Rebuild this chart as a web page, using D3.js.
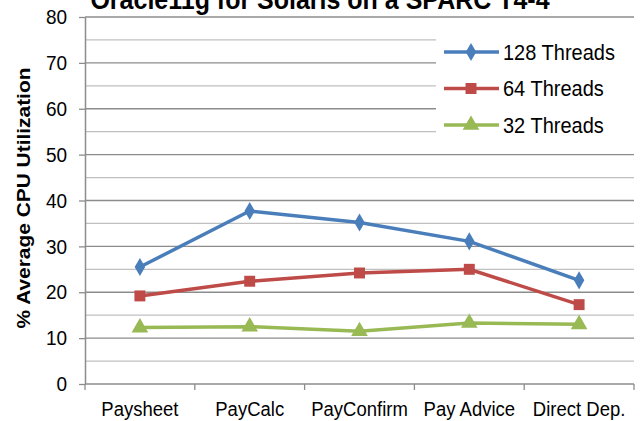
<!DOCTYPE html>
<html>
<head>
<meta charset="utf-8">
<script src="https://cdn.jsdelivr.net/npm/d3@7"></script>
<style>
  body { margin: 0; background: #fff; }
  text { font-family: "Liberation Sans", Arial, sans-serif; }
</style>
</head>
<body>
<svg id="chart" width="640" height="421"></svg>
<script>
const categories = ["Paysheet", "PayCalc", "PayConfirm", "Pay Advice", "Direct Dep."];
const threads128 = [25.5, 37.7, 35.2, 31.1, 22.6];
const threads64 = [19.2, 22.4, 24.2, 25.0, 17.3];
const threads32 = [12.3, 12.5, 11.5, 13.3, 13.0];
const seriesNames = ["128 Threads", "64 Threads", "32 Threads"];
const yTicks = [0, 10, 20, 30, 40, 50, 60, 70, 80];

const series = [
  { name: seriesNames[0], values: threads128, color: "#4a7ebb", shape: d3.symbolDiamond },
  { name: seriesNames[1], values: threads64, color: "#be4b48", shape: d3.symbolSquare },
  { name: seriesNames[2], values: threads32, color: "#98b954", shape: d3.symbolTriangle }
];

// the picture is a little taller than wide in its glyphs
const stretch = 1.1;

var svg = d3.select("#chart"),
  margin = { top: 17, right: 6, bottom: 37, left: 85 },
  width = +svg.attr("width"),
  height = +svg.attr("height");

const x = d3.scaleBand()
  .domain(categories)
  .range([margin.left, width - margin.right]);

const y = d3.scaleLinear()
  .domain([0, 80])
  .range([height - margin.bottom, margin.top]);

// gridlines, minor every 5, major every 10
svg.append("g")
  .selectAll("line")
  .data(d3.range(5, 81, 5))
  .enter()
  .append("line")
  .attr("x1", margin.left)
  .attr("x2", width - margin.right)
  .attr("y1", (d) => y(d))
  .attr("y2", (d) => y(d))
  .attr("stroke", (d) => (d % 10 === 0 ? "#8c8c8c" : "#c0c0c0"))
  .attr("stroke-width", 1.3);

// y axis
var yAxis = svg.append("g")
  .attr("transform", "translate(" + margin.left + ",0)")
  .call(d3.axisLeft(y).tickValues(yTicks).tickSize(6).tickPadding(12).tickSizeOuter(0));
yAxis.select(".domain").attr("stroke", "#8c8c8c").attr("stroke-width", 1.5);
yAxis.selectAll(".tick line").attr("stroke", "#8c8c8c").attr("stroke-width", 1.3);
yAxis.selectAll("text")
  .attr("font-size", 19)
  .attr("fill", "#000")
  .attr("transform", "scale(1," + stretch + ")")
  .style("font-family", "'Liberation Sans', Arial, sans-serif");

// x axis, ticks between categories
var xAxis = svg.append("g")
  .attr("transform", "translate(0," + y(0) + ")");
xAxis.append("line")
  .attr("x1", margin.left).attr("x2", width - margin.right)
  .attr("stroke", "#8c8c8c").attr("stroke-width", 1.5);
const bounds = categories.map((c) => x(c)).concat([x(categories[categories.length - 1]) + x.bandwidth()]);
xAxis.selectAll(".sep")
  .data(bounds)
  .enter()
  .append("line")
  .attr("x1", (d) => d).attr("x2", (d) => d)
  .attr("y1", 0).attr("y2", 6)
  .attr("stroke", "#8c8c8c").attr("stroke-width", 1.3);
xAxis.selectAll(".lbl")
  .data(categories)
  .enter()
  .append("text")
  .attr("transform", (d) => "translate(" + (x(d) + x.bandwidth() / 2) + ",32) scale(1," + stretch + ")")
  .attr("text-anchor", "middle")
  .attr("font-size", 18.5)
  .text((d) => d);

// y axis title
svg.append("text")
  .attr("transform", "translate(30,198) rotate(-90) scale(" + stretch + ",1)")
  .attr("text-anchor", "middle")
  .attr("font-size", 19)
  .attr("font-weight", "bold")
  .text("% Average CPU Utilization");

// chart title, clipped at the top
svg.append("text")
  .attr("transform", "translate(320,9) scale(1," + stretch + ")")
  .attr("text-anchor", "middle")
  .attr("font-size", 25)
  .attr("font-weight", "bold")
  .text("Oracle11g for Solaris on a SPARC T4-4");

// legend box hides gridlines behind it
var legend = svg.append("g");
legend.append("rect")
  .attr("x", 436).attr("y", 34)
  .attr("width", 198).attr("height", 108)
  .attr("fill", "#fff");

const line = d3.line()
  .x((d, i) => x(categories[i]) + x.bandwidth() / 2)
  .y((d) => y(d));

series.forEach(function (s, k) {
  svg.append("path")
    .datum(s.values)
    .attr("fill", "none")
    .attr("stroke", s.color)
    .attr("stroke-width", 3.5)
    .attr("d", line);

  svg.selectAll(".m" + k)
    .data(s.values)
    .enter()
    .append("path")
    .attr("transform", (d, i) => "translate(" + (x(categories[i]) + x.bandwidth() / 2) + "," + y(d) + ")")
    .attr("d", d3.symbol().type(s.shape).size(k === 0 ? 95 : 120))
    .attr("fill", s.color);

  var ly = 52 + k * 36.5;
  legend.append("line")
    .attr("x1", 444).attr("x2", 499)
    .attr("y1", ly).attr("y2", ly)
    .attr("stroke", s.color).attr("stroke-width", 3.5);
  legend.append("path")
    .attr("transform", "translate(471," + ly + ")")
    .attr("d", d3.symbol().type(s.shape).size(k === 0 ? 95 : 120))
    .attr("fill", s.color);
  legend.append("text")
    .attr("transform", "translate(503," + (ly + 7.5) + ") scale(1," + stretch + ")")
    .attr("font-size", 20)
    .text(s.name);
});
</script>
</body>
</html>
